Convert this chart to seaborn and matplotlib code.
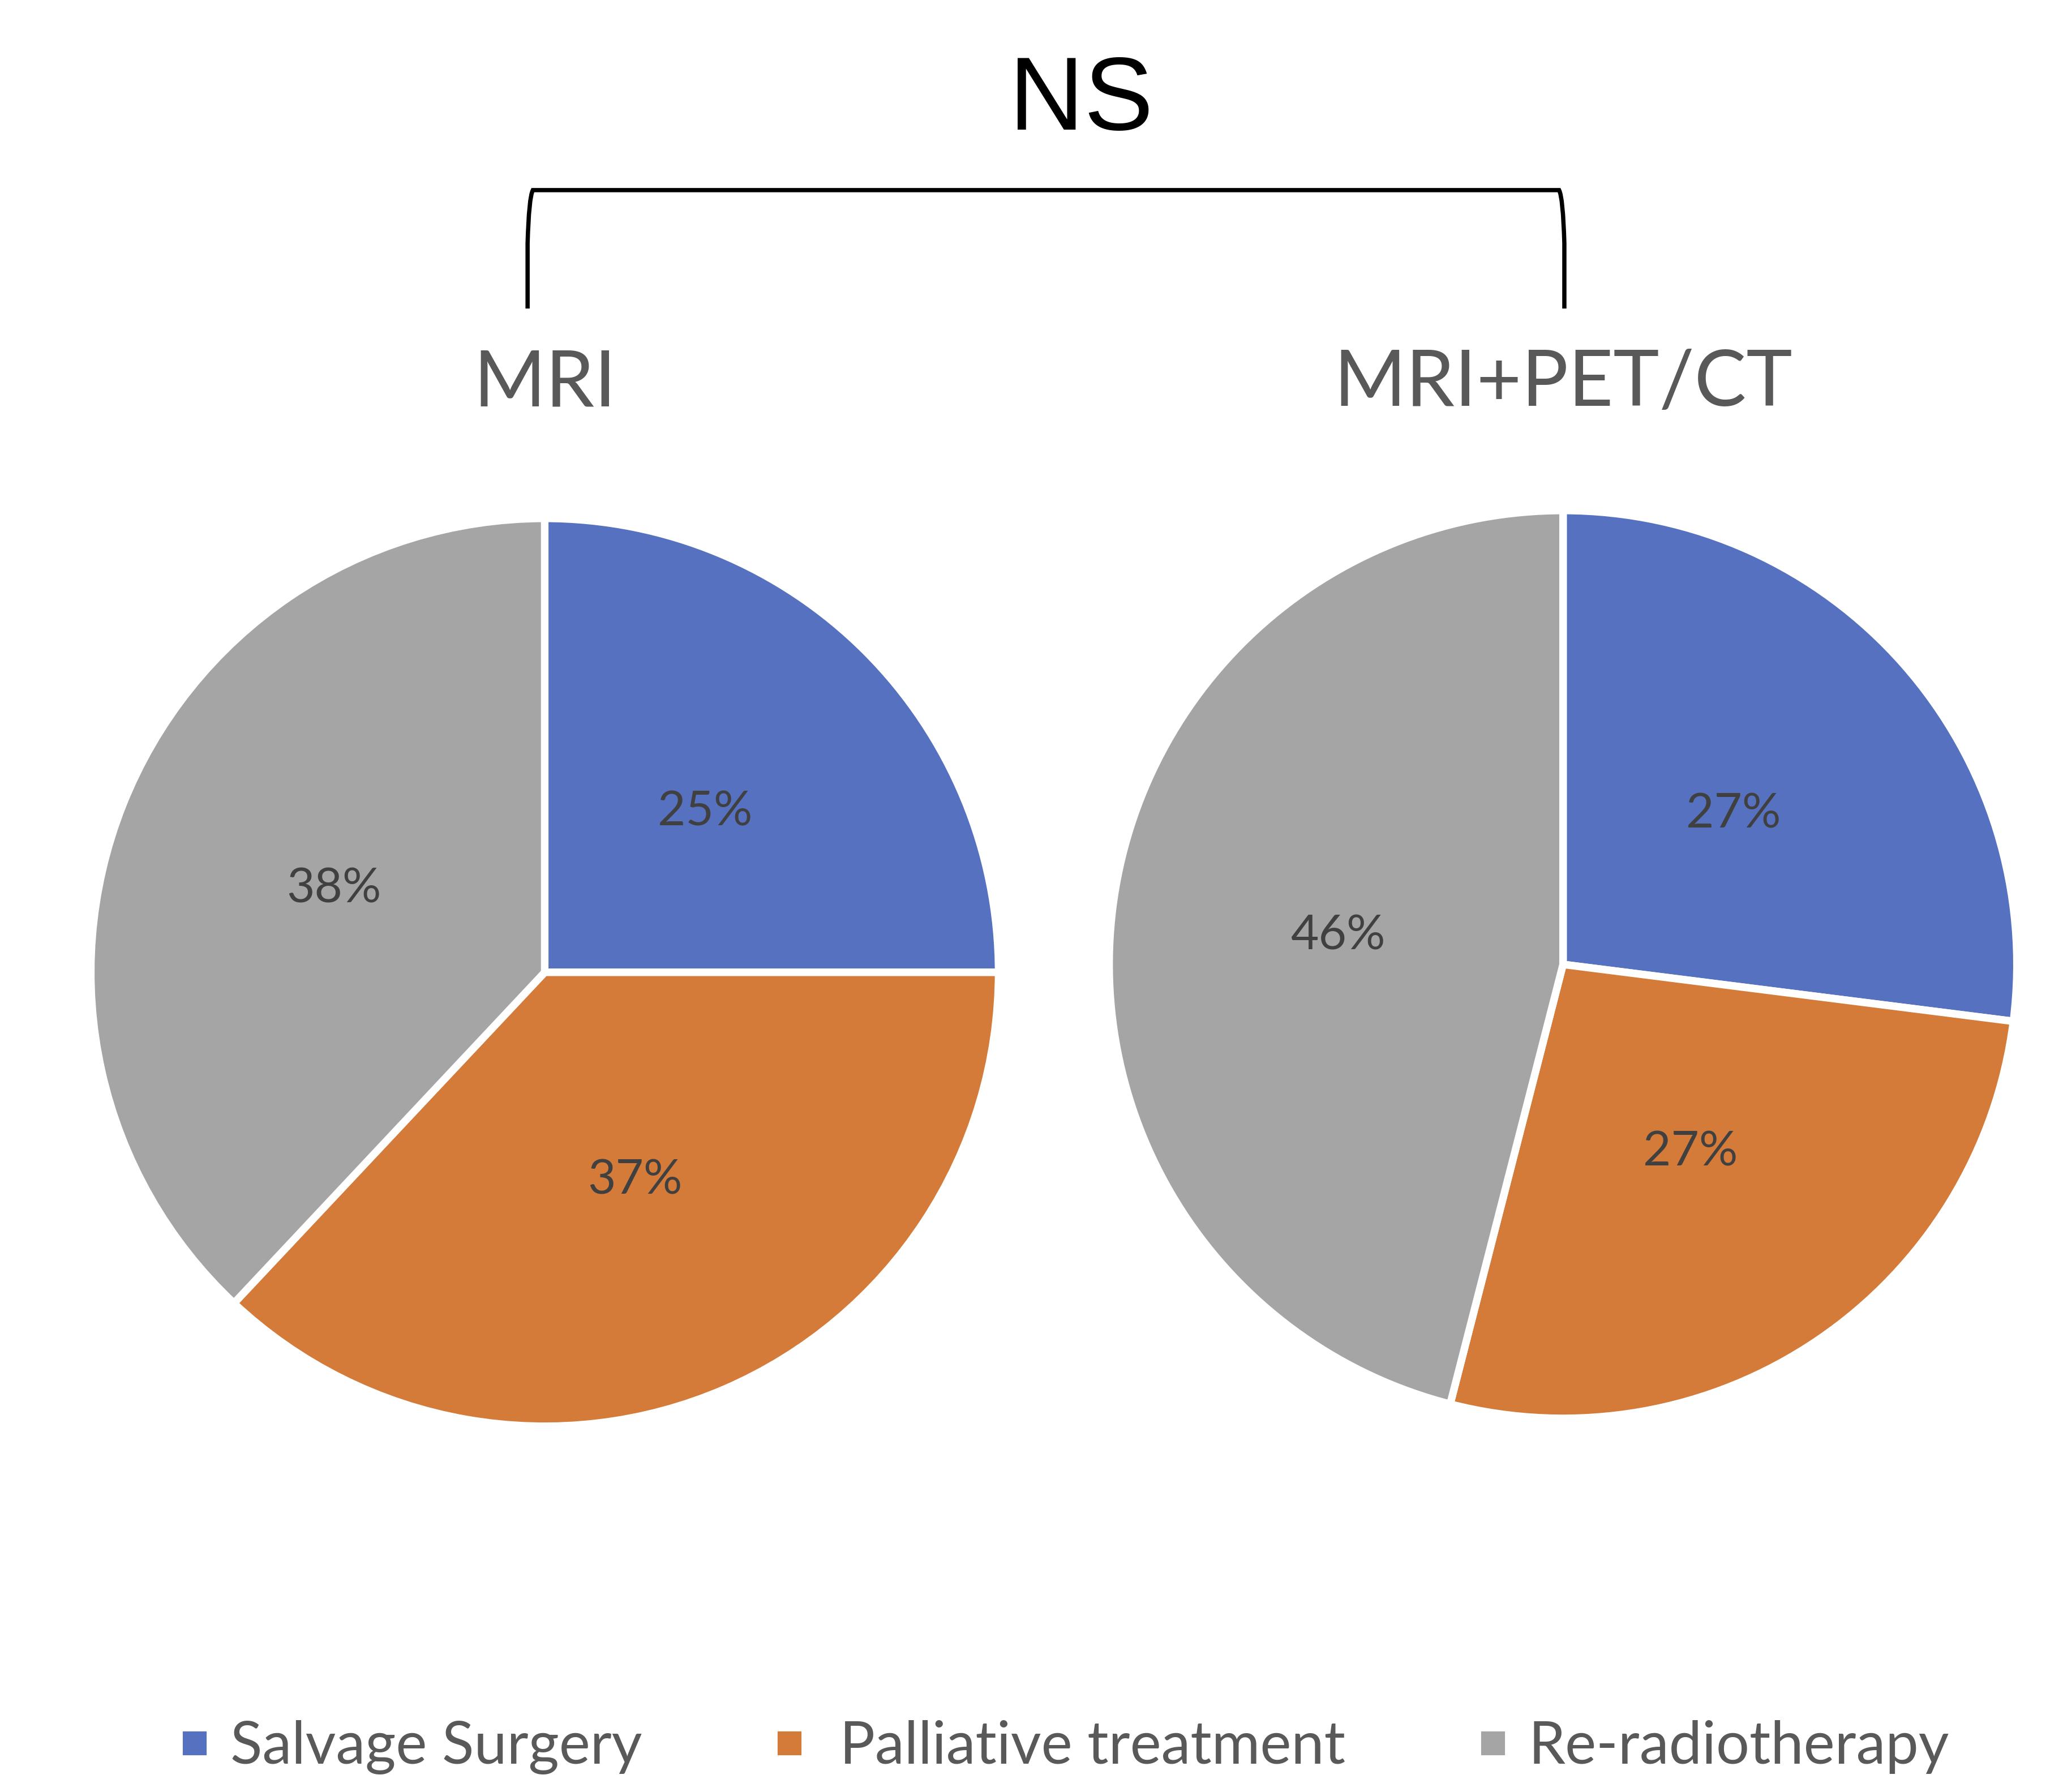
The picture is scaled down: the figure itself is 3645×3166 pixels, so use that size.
import matplotlib
matplotlib.use("Agg")
import matplotlib.pyplot as plt
import seaborn as sns
from matplotlib.lines import Line2D
from matplotlib.path import Path
from matplotlib.patches import PathPatch

# Data
categories = ["Salvage Surgery", " Palliative treatment", "Re-radiotherapy"]
groups = ["MRI", "MRI+PET/CT"]
mri_values = [25, 37, 38]
petct_values = [27, 27, 46]
significance = "NS"

colors = ["#5571C0", "#D47B3A", "#A5A5A5"]

sns.set_theme(style="white")
plt.rcParams["font.family"] = ["Lato", "DejaVu Sans"]

W, H = 3645, 3166
fig = plt.figure(figsize=(W / 300, H / 300), dpi=300)

# pie geometry in the displayed reference (1568 x 1362)
dw, dh = 1568.0, 1362.0
radius = 345.0
centers = [(414.0, 739.0), (1188.0, 733.0)]

for (cx, cy), values, title in zip(centers, [mri_values, petct_values], groups):
    w = 2 * radius / dw
    h = 2 * radius / dh
    ax = fig.add_axes([cx / dw - w / 2, 1 - cy / dh - h / 2, w, h])
    wedges, texts, autotexts = ax.pie(
        values, colors=colors, startangle=90, counterclock=False,
        autopct=lambda p: f"{p:.0f}%", pctdistance=0.5, radius=1,
        wedgeprops=dict(edgecolor="white", linewidth=3.2),
        textprops=dict(color="#404040", fontsize=20.5),
    )
    ax.set_xlim(-1.0, 1.0)
    ax.set_ylim(-1.0, 1.0)
    ax.set_aspect("equal")
    ax.axis("off")
    fig.text(cx / dw, 1 - 292 / dh, title, ha="center", va="center",
             fontsize=33, color="#595959")

# significance bracket
ov = fig.add_axes([0, 0, 1, 1])
ov.set_xlim(0, dw)
ov.set_ylim(dh, 0)
ov.axis("off")
xl, xr = 401.0, 1189.0
ytop, ybot = 144.5, 234.5
verts = [(xl, ybot), (xl, 185), (xl + 1, 150), (xl + 4, ytop),
         (xr - 4, ytop),
         (xr - 1, 150), (xr, 185), (xr, ybot)]
codes = [Path.MOVETO, Path.LINETO, Path.CURVE3, Path.CURVE3,
         Path.LINETO, Path.CURVE3, Path.CURVE3, Path.LINETO]
ov.add_patch(PathPatch(Path(verts, codes), fill=False, edgecolor="black",
                       linewidth=1.8))
ov.text(822, 78, significance, ha="center", va="center", fontsize=44,
        color="black", family=["Liberation Sans", "DejaVu Sans"])

# legend
handles = [Line2D([], [], marker="s", linestyle="none", markersize=9,
                  markerfacecolor=c, markeredgecolor=c) for c in colors]
fig.legend(handles, categories, loc="center",
           bbox_to_anchor=(0.5 + 24 / dw, 1 - 1328 / dh),
           ncol=3, frameon=False, fontsize=25, labelcolor="#595959",
           handlelength=0.6, handletextpad=0.3, columnspacing=2.2)

fig.savefig("out.png", dpi=300, facecolor="white")
